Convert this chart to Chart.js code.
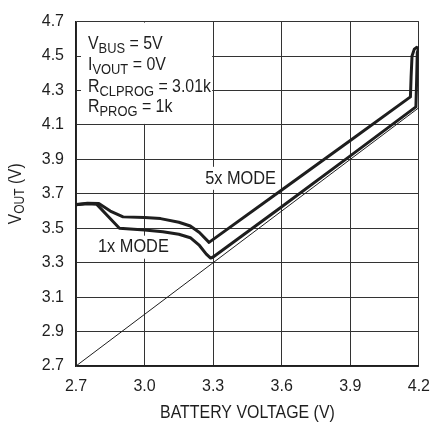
<!DOCTYPE html>
<html lang="en">
<head>
<meta charset="UTF-8">
<title>VOUT vs Battery Voltage</title>
<script src="https://cdn.jsdelivr.net/npm/chart.js@4.4.0/dist/chart.umd.min.js"></script>
<style>
    html, body { margin: 0; padding: 0; background: #fff; }
    .chart-container { width: 441px; height: 423px; }
</style>
</head>
<body>
<div class="chart-container"><canvas id="myChart"></canvas></div>
<script>
    // tick labels
    var xTicks = [2.7, 3.0, 3.3, 3.6, 3.9, 4.2];
    var yTicks = [2.7, 2.9, 3.1, 3.3, 3.5, 3.7, 3.9, 4.1, 4.3, 4.5, 4.7];

    // 1x mode curve
    var mode1Battery = [2.7, 2.75, 2.79, 2.84, 2.89, 3.0, 3.08, 3.15, 3.2, 3.24, 3.27, 3.289, 3.3, 3.6, 3.9, 4.187, 4.19, 4.193, 4.2];
    var mode1Vout    = [3.636, 3.642, 3.64, 3.57, 3.50, 3.49, 3.48, 3.465, 3.445, 3.40, 3.35, 3.327, 3.333, 3.625, 3.92, 4.205, 4.35, 4.52, 4.55];

    // 5x mode curve
    var mode5Battery = [2.7, 2.75, 2.8, 2.85, 2.906, 3.0, 3.07, 3.15, 3.2, 3.24, 3.282, 3.6, 3.9, 4.163, 4.166, 4.17, 4.18, 4.19];
    var mode5Vout    = [3.638, 3.645, 3.643, 3.60, 3.566, 3.562, 3.556, 3.535, 3.513, 3.475, 3.418, 3.722, 4.01, 4.263, 4.38, 4.50, 4.54, 4.55];

    // VOUT = VBAT reference line
    var refBattery = [2.7, 4.2];
    var refVout = [2.7, 4.2];

    var FONT = '"Liberation Sans", Arial, sans-serif';
    var INK = '#1e1e1e';
    var SQUEEZE = 0.86; // condensed look

    function toPoints(xs, ys) {
        var pts = [];
        for (var i = 0; i < xs.length; i++) {
            pts.push({ x: xs[i], y: ys[i] });
        }
        return pts;
    }

    // draws text with subscript parts (squeezed), returns width
    function drawParts(ctx, parts, x, y, size, subSize, measureOnly) {
        var cx = 0;
        ctx.save();
        ctx.translate(x, y);
        ctx.scale(SQUEEZE, 1);
        for (var i = 0; i < parts.length; i++) {
            var sub = parts[i][1];
            ctx.font = (sub ? subSize : size) + 'px ' + FONT;
            if (!measureOnly) {
                ctx.fillText(parts[i][0], cx, sub ? 4 : 0);
            }
            cx += ctx.measureText(parts[i][0]).width;
        }
        ctx.restore();
        return cx * SQUEEZE;
    }

    function centerText(ctx, parts, cx, cy, size, subSize) {
        var w = drawParts(ctx, parts, 0, 0, size, subSize, true);
        drawParts(ctx, parts, cx - w / 2, cy, size, subSize);
    }

    // white patch behind a curve label
    function clearLabel(ctx, text, cx, cy, size) {
        var w = drawParts(ctx, [[text, false]], 0, 0, size, size, true);
        ctx.fillRect(cx - w / 2 - 3, cy - size / 2 - 2, w + 6, size + 4);
    }

    var textPlugin = {
        id: 'textPlugin',
        beforeDatasetsDraw: function (chart) {
            var ctx = chart.ctx, a = chart.chartArea;
            var xs = chart.scales.x, ys = chart.scales.y;
            var boxRight = xs.getPixelForValue(3.3) - 1;
            var boxBottom = ys.getPixelForValue(4.1) - 1;
            ctx.save();
            ctx.fillStyle = '#fff';
            ctx.fillRect(a.left + 5, a.top + 1, boxRight - a.left - 5, boxBottom - a.top - 1);
            clearLabel(ctx, '5x MODE', xs.getPixelForValue(3.42), ys.getPixelForValue(3.79), 19);
            clearLabel(ctx, '1x MODE', xs.getPixelForValue(2.951), ys.getPixelForValue(3.39), 19);
            ctx.restore();
        },
        afterDatasetsDraw: function (chart) {
            var ctx = chart.ctx, a = chart.chartArea;
            var xs = chart.scales.x, ys = chart.scales.y;
            ctx.save();
            ctx.fillStyle = INK;
            ctx.textAlign = 'left';
            ctx.textBaseline = 'alphabetic';

            var lx = a.left + 12;
            drawParts(ctx, [['V', false], ['BUS', true], [' = 5V', false]], lx, a.top + 27, 18.5, 15);
            drawParts(ctx, [['I', false], ['VOUT', true], [' = 0V', false]], lx, a.top + 48, 18.5, 15);
            drawParts(ctx, [['R', false], ['CLPROG', true], [' = 3.01k', false]], lx, a.top + 70, 18.5, 15);
            drawParts(ctx, [['R', false], ['PROG', true], [' = 1k', false]], lx, a.top + 90, 18.5, 15);

            // curve labels
            ctx.textBaseline = 'middle';
            centerText(ctx, [['5x MODE', false]], xs.getPixelForValue(3.42), ys.getPixelForValue(3.79), 19, 19);
            centerText(ctx, [['1x MODE', false]], xs.getPixelForValue(2.951), ys.getPixelForValue(3.39), 19, 19);

            // x axis title
            centerText(ctx, [['BATTERY VOLTAGE (V)', false]], (a.left + a.right) / 2, 413, 18.5, 18.5);

            // y axis title with subscript
            var parts = [['V', false], ['OUT', true], [' (V)', false]];
            var w = drawParts(ctx, parts, 0, 0, 18, 14, true);
            ctx.translate(16, (a.top + a.bottom) / 2);
            ctx.rotate(-Math.PI / 2);
            drawParts(ctx, parts, -w / 2, 0, 18, 14);
            ctx.restore();
        }
    };

    function lineSet(xs, ys, width) {
        return {
            data: toPoints(xs, ys),
            showLine: true,
            borderColor: INK,
            borderWidth: width,
            pointRadius: 0,
            tension: 0,
            borderJoinStyle: 'round',
            borderCapStyle: 'round'
        };
    }

    var ctx = document.getElementById('myChart').getContext('2d');
    var myChart = new Chart(ctx, {
        type: 'scatter',
        data: {
            datasets: [
                lineSet(refBattery, refVout, 1),
                lineSet(mode1Battery, mode1Vout, 3),
                lineSet(mode5Battery, mode5Vout, 3)
            ]
        },
        options: {
            responsive: true,
            maintainAspectRatio: false,
            animation: false,
            layout: { padding: { top: 15, right: 13, left: 0, bottom: 0 } },
            plugins: { legend: { display: false }, tooltip: { enabled: false } },
            scales: {
                x: {
                    type: 'linear',
                    min: 2.7,
                    max: 4.2,
                    afterBuildTicks: function (scale) {
                        scale.ticks = xTicks.map(function (v) { return { value: v }; });
                    },
                    afterFit: function (scale) { scale.height = 57; },
                    ticks: {
                        color: INK,
                        font: { family: FONT, size: 16 },
                        padding: 11,
                        maxRotation: 0,
                        callback: function (v) { return v.toFixed(1); }
                    },
                    grid: { color: '#333', lineWidth: 1, drawTicks: false },
                    border: { color: INK, width: 1.5 }
                },
                y: {
                    type: 'linear',
                    min: 2.7,
                    max: 4.7,
                    afterBuildTicks: function (scale) {
                        scale.ticks = yTicks.map(function (v) { return { value: v }; });
                    },
                    afterFit: function (scale) { scale.width = 76; },
                    ticks: {
                        color: INK,
                        font: { family: FONT, size: 16 },
                        padding: 12,
                        callback: function (v) { return v.toFixed(1); }
                    },
                    grid: { color: '#333', lineWidth: 1, drawTicks: false },
                    border: { color: INK, width: 1.5 }
                }
            }
        },
        plugins: [textPlugin]
    });
</script>
</body>
</html>
